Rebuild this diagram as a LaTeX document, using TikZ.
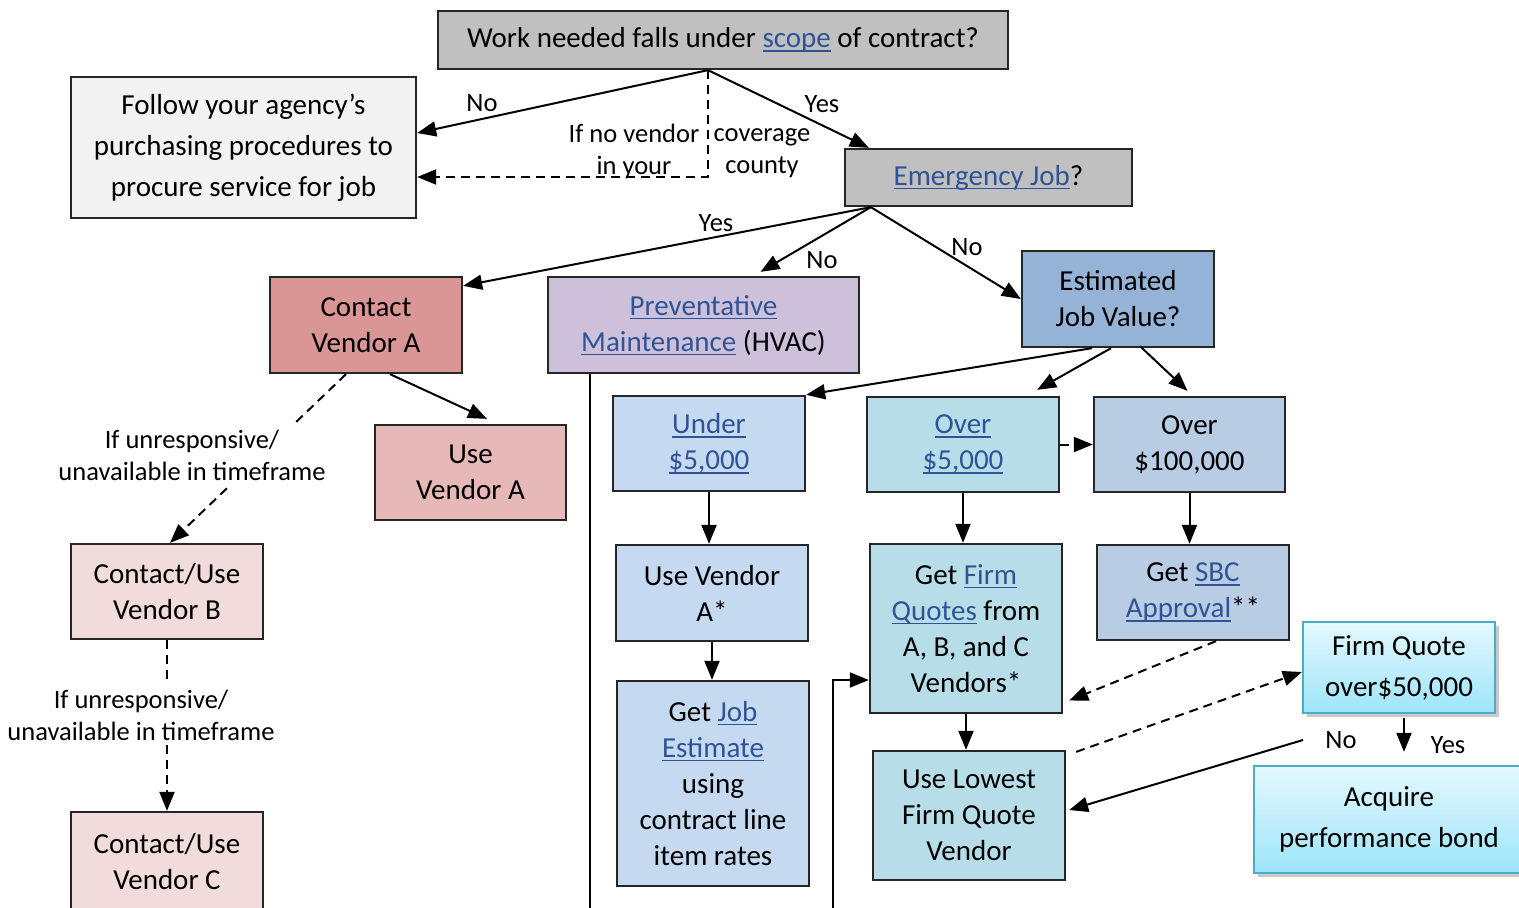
\documentclass[tikz,border=0pt]{standalone}
\usepackage{fontspec}
\setmainfont{Carlito}
\usetikzlibrary{arrows.meta,shadows}

\definecolor{linkblue}{RGB}{47,84,150}
\definecolor{qgray}{HTML}{C0C0C0}
\definecolor{fgray}{HTML}{F2F2F2}
\definecolor{redA}{HTML}{DA9694}
\definecolor{redB}{HTML}{E6B8B7}
\definecolor{redC}{HTML}{F2DCDB}
\definecolor{lilac}{HTML}{CCC0DA}
\definecolor{steel}{HTML}{95B3D7}
\definecolor{paleblue}{HTML}{C5D9F1}
\definecolor{aqua}{HTML}{B7DEE8}
\definecolor{greyblue}{HTML}{B8CCE4}
\definecolor{glowline}{HTML}{4BACC6}
\definecolor{glowtop}{HTML}{E4F8FE}
\definecolor{glowbot}{HTML}{9DE5FA}

\newcommand\lnk[1]{{\color{linkblue}\setbox0\hbox{#1}\rlap{\rule[-4pt]{\wd0}{1.5pt}}\box0}}

\begin{document}
\begin{tikzpicture}[x=1pt,y=-1pt,
  box/.style={draw=black!85, line width=2.3pt, align=center, inner sep=0pt, font=\fontsize{29}{36}\selectfont},
  wide/.style={font=\fontsize{29}{41}\selectfont},
  glow/.style={box, wide, draw=glowline, top color=glowtop, bottom color=glowbot,
    drop shadow={shadow xshift=4pt, shadow yshift=-4pt, opacity=0.35, fill=black!60}},
  lbl/.style={font=\fontsize{26.5}{32}\selectfont, inner sep=0pt, align=center},
  conn/.style={line width=2pt, -{Triangle[length=19pt,width=15pt]}},
  dconn/.style={conn, dash pattern=on 9pt off 6pt},
]
\useasboundingbox[fill=white] (0,0) rectangle (1519,908);

% boxes
\node[box, fill=qgray, minimum width=570pt, minimum height=58pt] (top) at (723,40)
  {Work needed falls under \lnk{scope} of contract?};
\node[box, wide, fill=fgray, minimum width=345pt, minimum height=141pt] (follow) at (243.5,147.5)
  {Follow your agency’s\\purchasing procedures to\\procure service for job};
\node[box, fill=qgray, minimum width=287pt, minimum height=57pt] (emerg) at (988.5,177.5)
  {\lnk{Emergency Job}?};
\node[box, fill=redA, minimum width=192pt, minimum height=96pt] (cva) at (366,325)
  {Contact\\Vendor A};
\node[box, fill=lilac, minimum width=311pt, minimum height=96pt] (prev) at (703.5,325)
  {\lnk{Preventative}\\\lnk{Maintenance} (HVAC)};
\node[box, fill=steel, minimum width=192pt, minimum height=96pt] (est) at (1118,299)
  {Estimated\\Job Value?};
\node[box, fill=redB, minimum width=191pt, minimum height=95pt] (uva) at (470.5,472.5)
  {Use\\Vendor A};
\node[box, fill=paleblue, minimum width=192pt, minimum height=95pt] (under) at (709,443.5)
  {\lnk{Under}\\\lnk{\$5,000}};
\node[box, fill=aqua, minimum width=192pt, minimum height=95pt] (over5) at (963,444.5)
  {\lnk{Over}\\\lnk{\$5,000}};
\node[box, fill=greyblue, minimum width=191pt, minimum height=95pt] (ov100) at (1189.5,444.5)
  {Over\\\$100,000};
\node[box, fill=redC, minimum width=192pt, minimum height=95pt] (vb) at (167,591.5)
  {Contact/Use\\Vendor B};
\node[box, fill=paleblue, minimum width=192pt, minimum height=96pt] (usa) at (712,593)
  {Use Vendor\\A*};
\node[box, fill=aqua, minimum width=192pt, minimum height=169pt] (firm) at (966,628.5)
  {Get \lnk{Firm}\\\lnk{Quotes} from\\A, B, and C\\Vendors*};
\node[box, fill=greyblue, minimum width=192pt, minimum height=95pt] (sbc) at (1193,592.5)
  {Get \lnk{SBC}\\\lnk{Approval}**};
\node[glow, minimum width=192pt, minimum height=91pt] (fq50) at (1399,667.5)
  {Firm Quote\\over\$50,000};
\node[box, fill=paleblue, minimum width=192pt, minimum height=205pt] (jobest) at (713,783.5)
  {Get \lnk{Job}\\\lnk{Estimate}\\using\\contract line\\item rates};
\node[box, fill=aqua, minimum width=192pt, minimum height=129pt] (lowest) at (969,815.5)
  {Use Lowest\\Firm Quote\\Vendor};
\node[glow, minimum width=270pt, minimum height=107pt] (acq) at (1389,819.5)
  {Acquire\\performance bond};
\node[box, fill=redC, minimum width=192pt, minimum height=100pt] (vc) at (167,862)
  {Contact/Use\\Vendor C};

% free ends
\coordinate (pmend) at (590,908);
\coordinate (fqin) at (833,908);
\coordinate (noout) at (1303,740);

% connectors
\path[conn]
  ([xshift=-15pt]top.south) edge ([yshift=14.5pt]follow.east)
                            edge ([xshift=25pt]emerg.north west)
  ([xshift=27pt]emerg.south west) edge ([yshift=-10pt]cva.north east)
                                  edge ([xshift=57pt,yshift=4pt]prev.north)
                                  edge (est.west)
  ([xshift=-26pt]est.south) edge (under.north east)
  ([xshift=-7pt]est.south) edge ([xshift=-23pt,yshift=6pt]over5.north east)
  ([xshift=22pt,yshift=2pt]est.south) edge ([xshift=-2pt,yshift=5pt]ov100.north)
  (under.south) edge (under.south |- usa.north)
  (usa.south) edge (usa.south |- jobest.north)
  (over5.south) edge (over5.south |- firm.north)
  (ov100.south) edge (ov100.south |- sbc.north)
  (firm.south) edge (firm.south |- lowest.north)
  ([xshift=24pt]cva.south) edge ([xshift=16.5pt,yshift=5pt]uva.north)
  (noout) edge ([xshift=3pt,yshift=5.5pt]lowest.east)
  ([xshift=5pt,yshift=-4pt]fq50.south) edge ([xshift=15pt,yshift=13pt]acq.north)
  ;
\path[dconn]
  (over5.east) edge (ov100.west)
  ([xshift=23pt]sbc.south) edge ([xshift=6pt,yshift=-72pt]firm.east)
  ([xshift=10pt,yshift=-2pt]lowest.north east) edge ([yshift=-4.5pt]fq50.west)
  ([xshift=-20pt]cva.south) edge ([xshift=3pt]vb.north)
  (vb.south) edge (vc.north)
  ;
\draw[dconn] ([xshift=-15pt]top.south) |- ([yshift=-29.5pt]follow.east);
\draw[line width=2pt] (prev.south -| pmend) -- (pmend);
\draw[conn] (fqin) |- ([yshift=-51.5pt]firm.west);

% labels
\node[lbl] (topno) at (482,103) {No};
\node[lbl] (topyes) at (822,104) {Yes};
\node[lbl] (nocov1) at (634,151) {If no vendor\\in your};
\node[lbl] (nocov2) at (762,153) {coverage\\county};
\node[lbl] (emyes) at (716,223) {Yes};
\node[lbl] (emno1) at (822,260) {No};
\node[lbl] (emno2) at (967,247) {No};
\node[lbl] (fqno) at (1341,740) {No};
\node[lbl] (fqyes) at (1448,745) {Yes};
\node[lbl, fill=white, inner sep=5pt] (unr1) at (192,455) {If unresponsive/\\unavailable in timeframe};
\node[lbl, fill=white, inner sep=5pt] (unr2) at (141,715) {If unresponsive/\\unavailable in timeframe};
\end{tikzpicture}
\end{document}
